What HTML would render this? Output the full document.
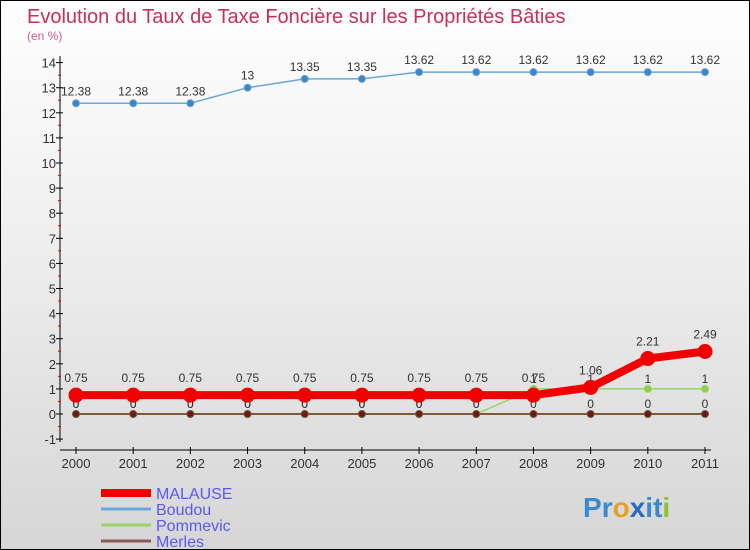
<!DOCTYPE html>
<html><head><meta charset="utf-8"><style>
body{margin:0}
#c{width:748px;height:548px;border:1px solid #000;background:linear-gradient(#fefefe,#f0f0f0 40%,#d6d6d6);position:relative;font-family:"Liberation Sans",sans-serif;overflow:hidden}
text{font-family:"Liberation Sans",sans-serif}
</style></head><body>
<div id="c">
<svg id="s" width="748" height="548"></svg>
</div>
<script>
const years=[2000,2001,2002,2003,2004,2005,2006,2007,2008,2009,2010,2011];
const malause=[0.75,0.75,0.75,0.75,0.75,0.75,0.75,0.75,0.75,1.06,2.21,2.49];
const boudou=[12.38,12.38,12.38,13,13.35,13.35,13.62,13.62,13.62,13.62,13.62,13.62];
const pommevic=[0,0,0,0,0,0,0,0,1,1,1,1];
const merles=[0,0,0,0,0,0,0,0,0,0,0,0];
const yTicks=[-1,0,1,2,3,4,5,6,7,8,9,10,11,12,13,14];
const names=["MALAUSE","Boudou","Pommevic","Merles"];
const NS="http://www.w3.org/2000/svg";
const s=document.getElementById('s');
function X(i){return 75+i*(704-75)/11;}
function Y(v){return 413-v*25.1;}
function el(t,a,p){const e=document.createElementNS(NS,t);for(const k in a)e.setAttribute(k,a[k]);(p||s).appendChild(e);return e;}
let t=el('text',{x:26,y:22,'font-size':20,fill:'#c8305a'});t.textContent='Evolution du Taux de Taxe Foncière sur les Propriétés Bâties';

t=el('text',{x:26,y:39,'font-size':12,fill:'#c8608a'});t.textContent='(en %)';

let ax=el('line',{x1:59,y1:55,x2:59,y2:441,stroke:'#000'});

ax=el('line',{x1:59,y1:449,x2:710,y2:449,stroke:'#000'});

yTicks.forEach(v=>{
 el('line',{x1:55,x2:62,y1:Y(v),y2:Y(v),stroke:'#000'});
 if(v<14)el('line',{x1:57,x2:60,y1:Y(v+0.5),y2:Y(v+0.5),stroke:'#e00'});
 const l=el('text',{x:55,y:Y(v)+5,'font-size':13,fill:'#333','text-anchor':'end'});l.textContent=v;
 
});
years.forEach((yr,i)=>{
 el('line',{x1:X(i),x2:X(i),y1:446,y2:453,stroke:'#000'});
 const l=el('text',{x:X(i),y:467,'font-size':13,fill:'#333','text-anchor':'middle'});l.textContent=yr;
 
});
function series(data,color,w,r,dot,name,labelDy){
 const g=el('g',{});
 
 el('polyline',{points:data.map((v,i)=>X(i)+','+Y(v)).join(' '),fill:'none',stroke:color,'stroke-width':w},g);
 data.forEach((v,i)=>{
  const c=el('circle',{cx:X(i),cy:Y(v),r:r,fill:dot,stroke:color,'stroke-width':1},g);
  
  const l=el('text',{x:X(i),y:Y(v)+labelDy,'font-size':12,fill:'#333','text-anchor':'middle'},g);l.textContent=v;
 });
}
series(pommevic,'#9cd46c',1.5,3.5,'#8ed040','pommevic',-6);
series(merles,'#7a5a3a',2,3.5,'#6a1a1a','merles',-6);
series(boudou,'#6aa6d8',1.5,3.5,'#3a86c8','boudou',-8);
series(malause,'#f00000',8,7,'#f00000','malause',-13);
const lc=['#f00000','#6aa6d8','#9cd46c','#8a5a5a'],lw=[8,3,3,3];
names.forEach((n,i)=>{
 const y=492+i*16;
 const g=el('g',{});
 el('line',{x1:100,x2:150,y1:y,y2:y,stroke:lc[i],'stroke-width':lw[i]},g);
 const l=el('text',{x:155,y:y+6,'font-size':16,fill:'#5a5af0'},g);l.textContent=n;
});
t=el('text',{x:582,y:516,'font-size':28,'font-weight':'bold'});

const cols=['#3a8ad0','#3a8ad0','#e8a020','#2a6ac0','#3a8ad0','#3a8ad0','#90c030'];
'Proxiti'.split('').forEach((ch,i)=>{const sp=el('tspan',{fill:cols[i]},t);sp.textContent=ch;});
</script>
</body></html>
